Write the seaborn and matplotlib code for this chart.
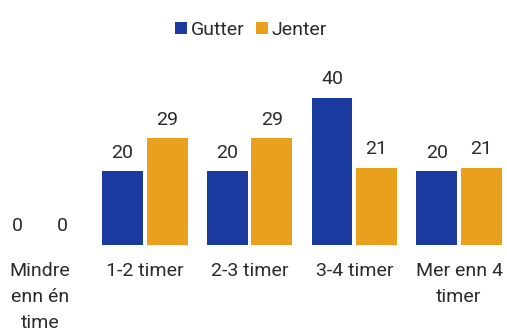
import pandas as pd
import matplotlib
matplotlib.use('Agg')
import matplotlib.pyplot as plt
import seaborn as sns

# Data
categories = ['Mindre\nenn én\ntime', '1-2 timer', '2-3 timer', '3-4 timer', 'Mer enn 4\ntimer']
gutter = [0, 20, 20, 40, 20]
jenter = [0, 29, 29, 21, 21]
series = ['Gutter', 'Jenter']
colors = ['#1b3a9f', '#e9a11d']

df = pd.DataFrame({
    'kategori': categories * 2,
    'verdi': gutter + jenter,
    'kjonn': [series[0]] * len(categories) + [series[1]] * len(categories),
})

sns.set_style('white')
plt.rcParams['font.family'] = ['Roboto', 'DejaVu Sans']
text_color = '#2b2b2b'

fig = plt.figure(figsize=(5.07, 3.31), dpi=100)
ax = fig.add_axes([0, 86 / 331, 1, 185 / 331])

sns.barplot(data=df, x='kategori', y='verdi', hue='kjonn', palette=colors,
            width=0.85, gap=0.08, ax=ax, legend=True, saturation=1, linewidth=0)

for cont in ax.containers:
    ax.bar_label(cont, padding=7, fontsize=14, color=text_color)

ax.set_xlim(-0.382, 4.458)
ax.set_ylim(0, 50.3)
ax.set_xlabel('')
ax.set_ylabel('')
ax.set_yticks([])
ax.tick_params(axis='x', length=0, pad=12, labelsize=14, labelcolor=text_color)
for lab in ax.get_xticklabels():
    lab.set_linespacing(1.6)
sns.despine(ax=ax, left=True, bottom=True)

handles, labels = ax.get_legend_handles_labels()
ax.get_legend().remove()
fig.legend(handles, labels, loc='upper center', bbox_to_anchor=(0.495, 0.99), ncol=2,
           frameon=False, fontsize=14, handlelength=0.6, handleheight=0.6,
           handletextpad=0.2, columnspacing=0.6, labelcolor=text_color)

fig.savefig('out.png', dpi=100)
